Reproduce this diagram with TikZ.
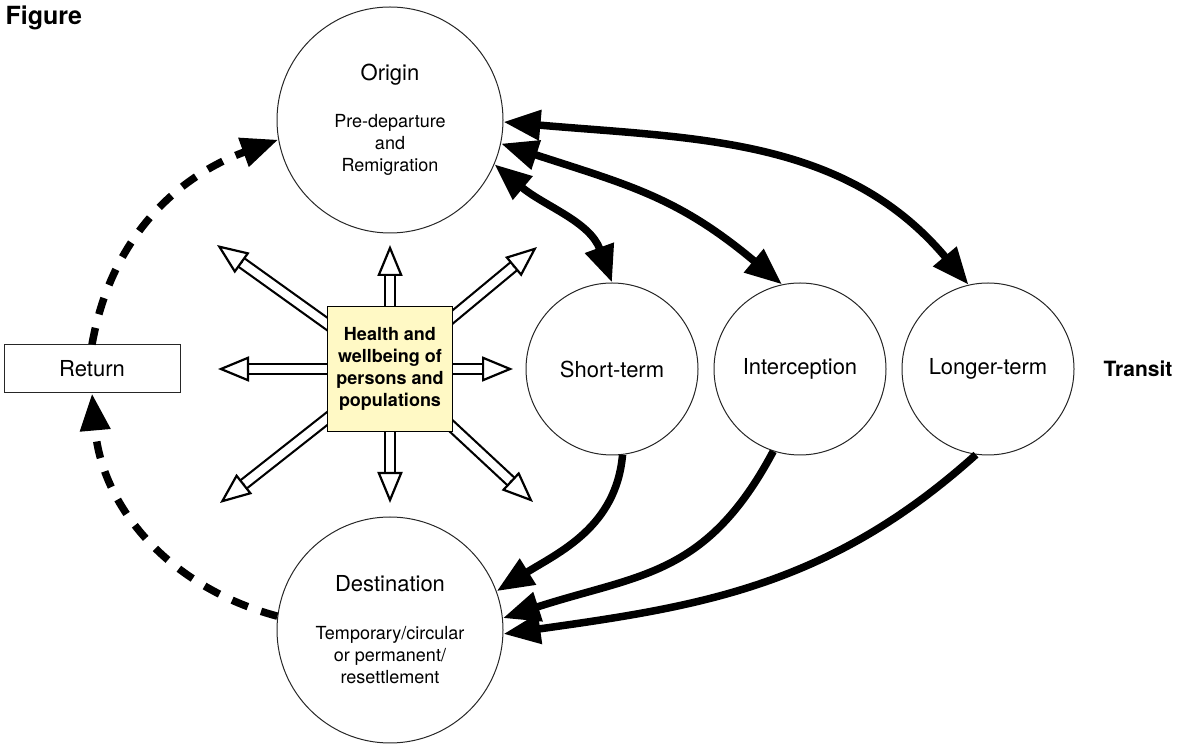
\documentclass[tikz,border=0pt]{standalone}
\usepackage{fontspec}
\setmainfont{TeX Gyre Heros}
\usetikzlibrary{arrows.meta,calc,backgrounds}

\newcommand{\namefont}{\fontsize{22}{26}\selectfont}
\newcommand{\bodyfont}{\fontsize{18}{22}\selectfont}

\definecolor{boxyellow}{RGB}{255,249,197}

\tikzset{
	bigcircle/.style={circle, draw=black!85, line width=1pt, minimum size=226pt, inner sep=0pt, align=center, font=\bodyfont},
	stage/.style={circle, draw=black!85, line width=1pt, minimum size=172pt, inner sep=0pt, font=\namefont},
	returnbox/.style={rectangle, draw=black!85, line width=1pt, minimum width=176pt, minimum height=48pt, font=\namefont},
	healthbox/.style={rectangle, draw=black, line width=1.2pt, fill=boxyellow, minimum size=125pt, inner sep=0pt, align=center, font=\bfseries\bodyfont},
	flow/.style={line width=7.5pt, {Triangle[length=37pt,width=29pt]}-{Triangle[length=37pt,width=29pt]}},
	onward/.style={line width=7.5pt, -{Triangle[length=37pt,width=29pt]}},
	returnflow/.style={line width=7.5pt, dash pattern=on 17pt off 14pt, -{Triangle[length=37pt,width=29pt]}},
	hollowshaft/.style={line width=2.2pt, double=white, double distance=8pt, shorten >=29pt},
	hollowhead/.style={line width=2.2pt, -{Triangle[length=31pt,width=25pt,fill=white]}},
}

\begin{document}
\begin{tikzpicture}[x=1pt,y=1pt]
	\useasboundingbox (0,0) rectangle (1183,744);

	\node[font=\bfseries\fontsize{25}{30}\selectfont, anchor=base west] (figlabel) at (2,719) {Figure};

	\node[bigcircle] (origin) at (390,624) {{\namefont Origin}\\[25pt]Pre-departure\\and\\Remigration};
	\node[bigcircle] (dest) at (390,114) {{\namefont Destination}\\[26pt]Temporary/circular\\or permanent/\\resettlement};

	\node[stage] (short) at (612,375) {Short-term};
	\node[stage] (inter) at (800,375) {Interception};
	\node[stage] (long) at (988,375) {Longer-term};

	\node[returnbox] (ret) at (92,375) {Return};
	\node[healthbox] (hb) at (390,375) {Health and\\wellbeing of\\persons and\\populations};

	\node[font=\bfseries\fontsize{21}{25}\selectfont] (transit) at (1138,375) {Transit};

	\coordinate (hbN) at (390,499);
	\coordinate (hbS) at (390,241);
	\coordinate (hbW) at (218,375);
	\coordinate (hbE) at (513,375);
	\coordinate (hbNW) at (217,499);
	\coordinate (hbNE) at (537,497);
	\coordinate (hbSW) at (220,241);
	\coordinate (hbSE) at (533,242);

	\begin{scope}[on background layer]
		\draw[hollowshaft] (hb.center) -- (hbN);
		\draw[hollowshaft] (hb.center) -- (hbS);
		\draw[hollowshaft] (hb.center) -- (hbW);
		\draw[hollowshaft] (hb.center) -- (hbE);
		\draw[hollowshaft] (hb.center) -- (hbNW);
		\draw[hollowshaft] (hb.center) -- (hbNE);
		\draw[hollowshaft] (hb.center) -- (hbSW);
		\draw[hollowshaft] (hb.center) -- (hbSE);
	\end{scope}

	\draw[hollowhead] ($(hbN)!31pt!(hb.center)$) -- (hbN);
	\draw[hollowhead] ($(hbS)!31pt!(hb.center)$) -- (hbS);
	\draw[hollowhead] ($(hbW)!31pt!(hb.center)$) -- (hbW);
	\draw[hollowhead] ($(hbE)!31pt!(hb.center)$) -- (hbE);
	\draw[hollowhead] ($(hbNW)!31pt!(hb.center)$) -- (hbNW);
	\draw[hollowhead] ($(hbNE)!31pt!(hb.center)$) -- (hbNE);
	\draw[hollowhead] ($(hbSW)!31pt!(hb.center)$) -- (hbSW);
	\draw[hollowhead] ($(hbSE)!31pt!(hb.center)$) -- (hbSE);

	\draw[flow] (origin.-23) to[out=-40, in=110] (short.north);
	\draw[flow] (origin.-12) to[out=-18, in=140, looseness=1.1] (inter.102);
	\draw[flow] (origin.-1) to[out=-5, in=130] (long.103);

	\draw[onward] (short.-83) to[out=-95, in=32] (dest.20);
	\draw[onward] (inter.-108) to[out=-118, in=18, looseness=1.15] (dest.6);
	\draw[onward] (long.-98) to[out=-138, in=8] (dest.-2);

	\draw[returnflow] (ret.north) to[out=80, in=200] (origin.190);
	\draw[returnflow] (dest.173) to[out=165, in=-85] (ret.south);
\end{tikzpicture}
\end{document}
